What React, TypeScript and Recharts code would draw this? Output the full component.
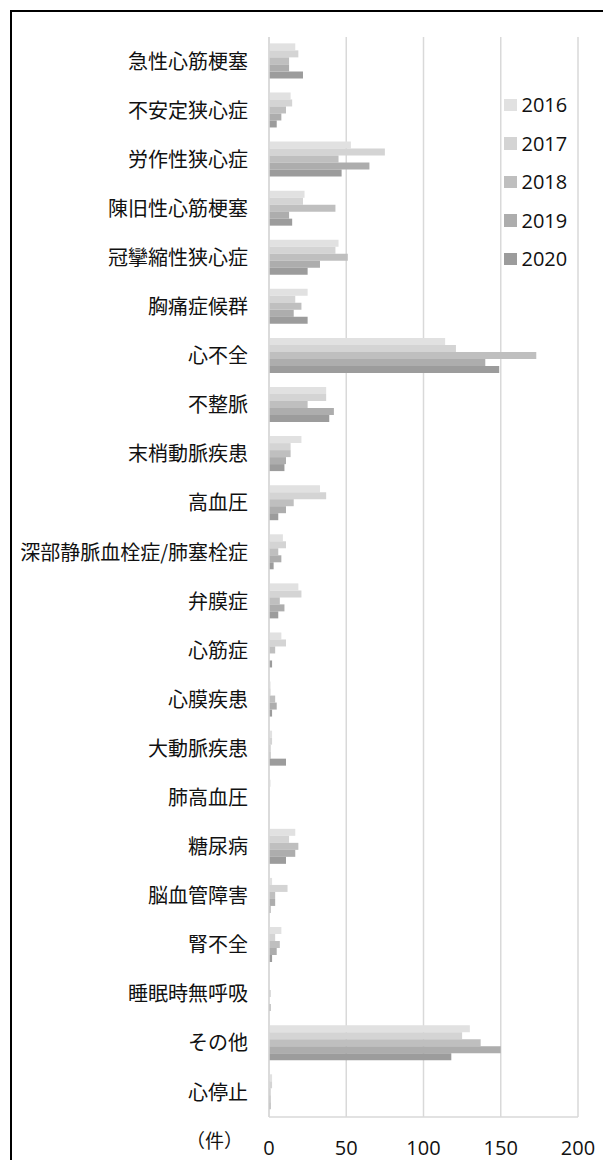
import { BarChart, Bar, XAxis, YAxis, CartesianGrid, Legend, Label } from 'recharts';

const categories = [
  '急性心筋梗塞', '不安定狭心症', '労作性狭心症', '陳旧性心筋梗塞', '冠攣縮性狭心症',
  '胸痛症候群', '心不全', '不整脈', '末梢動脈疾患', '高血圧',
  '深部静脈血栓症/肺塞栓症', '弁膜症', '心筋症', '心膜疾患', '大動脈疾患',
  '肺高血圧', '糖尿病', '脳血管障害', '腎不全', '睡眠時無呼吸',
  'その他', '心停止',
];

const years = ['2016', '2017', '2018', '2019', '2020'];
const colors = ['#e1e1e1', '#d4d4d4', '#bfbfbf', '#adadad', '#9c9c9c'];

const v2016 = [17, 14, 53, 23, 45, 25, 114, 37, 21, 33, 9, 19, 8, 1, 2, 1, 17, 2, 8, 0, 130, 2];
const v2017 = [19, 15, 75, 22, 43, 17, 121, 37, 14, 37, 11, 21, 11, 1, 2, 0, 13, 12, 4, 0, 125, 2];
const v2018 = [13, 11, 45, 43, 51, 21, 173, 25, 14, 16, 6, 7, 4, 4, 1, 0, 19, 4, 7, 1, 137, 1];
const v2019 = [13, 8, 65, 13, 33, 16, 140, 42, 11, 11, 8, 10, 0, 5, 1, 0, 17, 4, 5, 0, 150, 1];
const v2020 = [22, 5, 47, 15, 25, 25, 149, 39, 10, 6, 3, 6, 2, 2, 11, 0, 11, 1, 2, 1, 118, 1];

const xTicks = [0, 50, 100, 150, 200];

const series = [v2016, v2017, v2018, v2019, v2020];

const data = categories.map((name, i) => {
  const row: Record<string, string | number> = { name };
  years.forEach((y, j) => {
    row[y] = series[j][i];
  });
  return row;
});

const jpFont = '"Noto Sans CJK JP", "Noto Sans", sans-serif';
const numFont = '"Open Sans", "Noto Sans", sans-serif';
const gridColor = '#d9d9d9';
const textColor = '#111';

function YearLegend(props: any) {
  const items = props.payload || [];
  return (
    <div>
      {items.map((item: any) => (
        <div
          key={item.value}
          style={{ display: 'flex', alignItems: 'center', height: 38.5 }}
        >
          <span style={{ width: 12.5, height: 12.5, background: item.color, marginRight: 5 }} />
          <span style={{ fontFamily: numFont, fontSize: 20, color: textColor }}>{item.value}</span>
        </div>
      ))}
    </div>
  );
}

export default function App() {
  return (
    <div style={{ position: 'absolute', left: 0, top: 0, width: 603, height: 1160, background: '#fff' }}>
      <div
        style={{
          position: 'absolute',
          left: 10,
          top: 10,
          width: 593,
          height: 1150,
          borderTop: '2px solid #000',
          borderLeft: '2px solid #000',
          boxSizing: 'border-box',
        }}
      />
      <div style={{ position: 'absolute', left: 0, top: 0 }}>
        <BarChart
          width={603}
          height={1160}
          data={data}
          layout="vertical"
          margin={{ top: 37, right: 25, bottom: 0, left: 0 }}
          barCategoryGap="13%"
          barGap={0}
        >
          <CartesianGrid horizontal={false} stroke={gridColor} strokeWidth={1.5} />
          <XAxis
            type="number"
            domain={[0, 200]}
            ticks={xTicks}
            height={43}
            tickLine={false}
            tickSize={0}
            tickMargin={24}
            axisLine={{ stroke: gridColor, strokeWidth: 1.5 }}
            tick={{ fill: textColor, fontSize: 20, fontFamily: numFont }}
          >
            <Label
              value="（件）"
              position="left"
              offset={26}
              dy={3}
              fill={textColor}
              fontSize={19}
              fontFamily={jpFont}
            />
          </XAxis>
          <XAxis
            xAxisId="top"
            orientation="top"
            type="number"
            domain={[0, 200]}
            height={0}
            tick={false}
            tickLine={false}
            axisLine={{ stroke: gridColor, strokeWidth: 1.5 }}
          />
          <YAxis
            type="category"
            dataKey="name"
            width={269}
            tickLine={false}
            tickSize={0}
            tickMargin={21}
            interval={0}
            axisLine={{ stroke: gridColor, strokeWidth: 1.5 }}
            tick={{ fill: textColor, fontSize: 20, fontFamily: jpFont }}
          />
          <Legend
            layout="vertical"
            align="center"
            verticalAlign="middle"
            content={YearLegend}
            wrapperStyle={{ left: 504, top: 85.5, width: 90 }}
          />
          {years.map((y, j) => (
            <Bar key={y} dataKey={y} name={y} fill={colors[j]} isAnimationActive={false} />
          ))}
        </BarChart>
      </div>
    </div>
  );
}
